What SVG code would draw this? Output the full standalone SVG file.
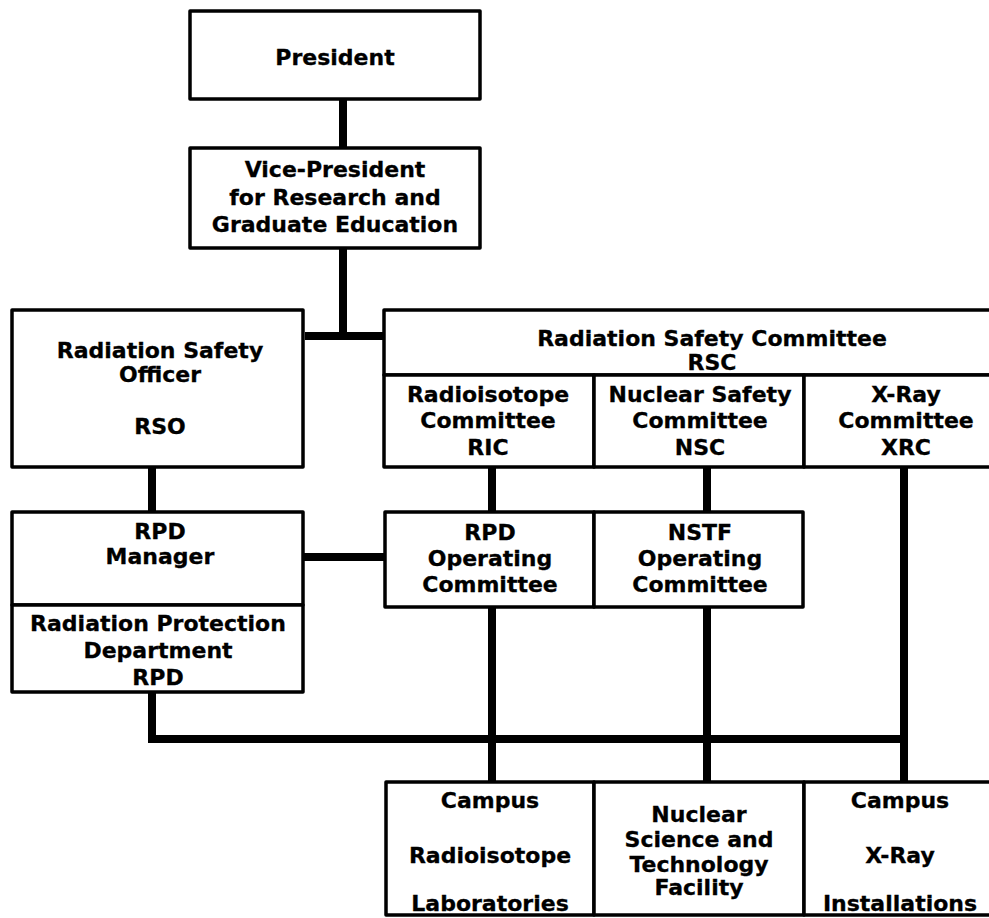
<svg xmlns="http://www.w3.org/2000/svg" width="989" height="918" viewBox="0 0 989 918">
<style>
.box{fill:#fff;stroke:#000;stroke-width:3.5;stroke-linejoin:round}
.c{fill:none;stroke:#000;stroke-width:8;stroke-linecap:butt;stroke-linejoin:miter}
text{font-family:"DejaVu Sans","Liberation Sans",sans-serif;font-weight:bold;font-size:22px;fill:#000;stroke:#000;stroke-width:0.3;text-anchor:middle}
</style>
<rect width="989" height="918" fill="#fff"/>
<g id="connectors">
<path class="c" d="M343,99 V147"/>
<path class="c" d="M343,248 V336 M305,336 H384"/>
<path class="c" d="M152,467 V512"/>
<path class="c" d="M303,557 H385"/>
<path class="c" d="M492,467 V512 M492,607 V782"/>
<path class="c" d="M707,467 V512 M707,607 V782"/>
<path class="c" d="M904,467 V782"/>
<path class="c" d="M152,692 V739 H908"/>
</g>
<g id="president"><rect class="box" x="190" y="11" width="290" height="88"/><text x="335" y="65">President</text></g>
<g id="vice-president"><rect class="box" x="190" y="148" width="290" height="100"/><text x="335" y="177">Vice-President</text><text x="335" y="205">for Research and</text><text x="335" y="232">Graduate Education</text></g>
<g id="rso"><rect class="box" x="12" y="310" width="291" height="157"/><text x="160" y="358">Radiation Safety</text><text x="160" y="382">Officer</text><text x="160" y="434">RSO</text></g>
<g id="rsc"><rect class="box" x="384" y="310" width="630" height="65"/><text x="712" y="346">Radiation Safety Committee</text><text x="712" y="370">RSC</text></g>
<g id="ric"><rect class="box" x="384" y="375" width="210" height="92"/><text x="488" y="402">Radioisotope</text><text x="488" y="428">Committee</text><text x="488" y="455">RIC</text></g>
<g id="nsc"><rect class="box" x="594" y="375" width="210" height="92"/><text x="700" y="402">Nuclear Safety</text><text x="700" y="428">Committee</text><text x="700" y="455">NSC</text></g>
<g id="xrc"><rect class="box" x="804" y="375" width="210" height="92"/><text x="906" y="402">X-Ray</text><text x="906" y="428">Committee</text><text x="906" y="455">XRC</text></g>
<g id="rpd-manager"><rect class="box" x="12" y="512" width="291" height="93"/><text x="160" y="539">RPD</text><text x="160" y="564">Manager</text></g>
<g id="rpd"><rect class="box" x="12" y="605" width="291" height="87"/><text x="158" y="631">Radiation Protection</text><text x="158" y="658">Department</text><text x="158" y="685">RPD</text></g>
<g id="rpd-op"><rect class="box" x="385" y="512" width="209" height="95"/><text x="490" y="540">RPD</text><text x="490" y="566">Operating</text><text x="490" y="592">Committee</text></g>
<g id="nstf-op"><rect class="box" x="594" y="512" width="209" height="95"/><text x="700" y="540">NSTF</text><text x="700" y="566">Operating</text><text x="700" y="592">Committee</text></g>
<g id="campus-radioisotope"><rect class="box" x="386" y="782" width="208" height="133"/><text x="490" y="808">Campus</text><text x="490" y="863">Radioisotope</text><text x="490" y="911">Laboratories</text></g>
<g id="nstf"><rect class="box" x="594" y="782" width="210" height="133"/><text x="699" y="822">Nuclear</text><text x="699" y="847">Science and</text><text x="699" y="872">Technology</text><text x="699" y="895">Facility</text></g>
<g id="campus-xray"><rect class="box" x="804" y="782" width="210" height="133"/><text x="900" y="808">Campus</text><text x="900" y="863">X-Ray</text><text x="900" y="911">Installations</text></g>
</svg>
